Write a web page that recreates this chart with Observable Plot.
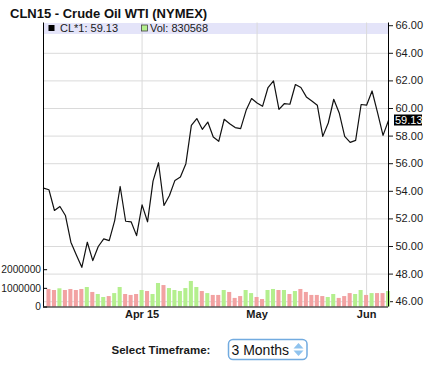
<!DOCTYPE html>
<html>
<head>
<meta charset="utf-8">
<script src="https://cdn.jsdelivr.net/npm/d3@7"></script>
<script src="https://cdn.jsdelivr.net/npm/@observablehq/plot@0.6"></script>
<style>
  html, body { margin: 0; padding: 0; background: #fff; }
  #wrap { position: relative; width: 447px; height: 366px; overflow: hidden; font-family: "Liberation Sans", Arial, Helvetica, sans-serif; }
  #band { position: absolute; left: 43px; top: 22.5px; width: 345px; height: 11px; background: #e4e4f9; }
  .layer { position: absolute; left: 0; top: 0; }
</style>
</head>
<body>
<div id="wrap">
  <div id="band"></div>
  <div id="price" class="layer"></div>
  <div id="volume" class="layer"></div>
  <svg id="overlay" class="layer" width="447" height="366"></svg>
</div>
<script>
// ---- data ----
const title = "CLN15 - Crude Oil WTI (NYMEX)";
const symbol = "CL*1";
const timeframe = "3 Months";
const dates = [
  "2015-03-06","2015-03-09","2015-03-10","2015-03-11","2015-03-12","2015-03-13","2015-03-16","2015-03-17","2015-03-18","2015-03-19",
  "2015-03-20","2015-03-23","2015-03-24","2015-03-25","2015-03-26","2015-03-27","2015-03-30","2015-03-31",
  "2015-04-01","2015-04-02","2015-04-06","2015-04-07","2015-04-08","2015-04-09","2015-04-10","2015-04-13","2015-04-14","2015-04-15",
  "2015-04-16","2015-04-17","2015-04-20","2015-04-21","2015-04-22","2015-04-23","2015-04-24","2015-04-27","2015-04-28","2015-04-29","2015-04-30",
  "2015-05-01","2015-05-04","2015-05-05","2015-05-06","2015-05-07","2015-05-08","2015-05-11","2015-05-12","2015-05-13","2015-05-14","2015-05-15",
  "2015-05-18","2015-05-19","2015-05-20","2015-05-21","2015-05-22","2015-05-26","2015-05-27","2015-05-28","2015-05-29",
  "2015-06-01","2015-06-02","2015-06-03","2015-06-04","2015-06-05"
];
const closes = [
  54.23, 54.11, 52.61, 52.90, 52.25, 50.31, 49.39, 48.49, 50.31, 48.98,
  50.00, 50.55, 50.43, 51.88, 54.35, 51.83, 51.79, 50.79,
  53.02, 51.79, 54.74, 56.07, 52.97, 53.70, 54.79, 55.03, 56.00, 58.78,
  59.27, 58.49, 59.02, 57.93, 57.62, 59.22, 58.90, 58.62, 58.54, 59.87, 60.72,
  60.40, 60.16, 61.52, 62.00, 59.94, 60.36, 60.31, 61.74, 61.52, 60.84, 60.55,
  60.24, 57.98, 58.95, 60.67, 59.68, 57.98, 57.55, 57.69, 60.29,
  60.24, 61.27, 59.70, 58.05, 59.13
];
const volumes = [
  null, 940000, 885000, 976000, 885000, 940000, 885000, 940000, 1045000, 780000,
  670000, 510000, 560000, 720000, 1045000, 670000, 620000, 670000,
  885000, 830000, 670000, 1260000, 1150000, 990000, 885000, 830000, 990000, 1370000,
  1045000, 830000, 720000, 620000, 620000, 885000, 780000, 460000, 560000, 885000, 720000,
  510000, 400000, 885000, 940000, 885000, 885000, 670000, 830000, 940000, 780000, 620000,
  620000, 560000, 510000, 670000, 460000, 560000, 720000, 670000, 885000,
  620000, 720000, 720000, 720000, 830568
];
const priceTicks = [46, 48, 50, 52, 54, 56, 58, 60, 62, 64, 66];
const volumeTicks = [0, 1000000, 2000000];
const monthStarts = ["2015-04-01", "2015-05-01", "2015-06-01"];
const monthLabels = ["Apr 15", "May", "Jun"];

// ---- derived ----
const rows = dates.map((d, i) => ({
  i, date: d, close: closes[i], volume: volumes[i],
  up: i > 0 && closes[i] >= closes[i - 1]
}));
const last = rows[rows.length - 1];
const monthIdx = monthStarts.map(m => dates.indexOf(m));
const labelOf = new Map(monthIdx.map((k, j) => [k, monthLabels[j]]));

const FONT = "'Liberation Sans', Arial, Helvetica, sans-serif";
const GREEN = "#b4ef8e", PINK = "#f2a2a2";
const W = 447, H = 330, ML = 43, MR = 59, MT = 22.5, MB = 23.5;
const xDomain = [0, dates.length - 1];
const common = {
  width: W, height: H, marginLeft: ML, marginRight: MR, marginTop: MT, marginBottom: MB,
  style: {background: "transparent", fontFamily: FONT, fontSize: "11px", color: "#1a1a1a", overflow: "visible"}
};

const pricePlot = Plot.plot({
  ...common,
  x: {domain: xDomain, axis: null},
  y: {domain: [45.616, 66.196]},
  marks: [
    Plot.gridY(priceTicks.filter(t => t < 66), {stroke: "#dadada", strokeOpacity: 1}),
    Plot.gridX(monthIdx, {stroke: "#dadada", strokeOpacity: 1}),
    Plot.axisY(priceTicks, {anchor: "right", tickSize: 4, tickPadding: 3, tickFormat: d => d.toFixed(2), label: null}),
    Plot.text(monthIdx, {x: d => d, frameAnchor: "bottom", dy: 11, text: d => labelOf.get(d), fontWeight: "bold", fontSize: 11, fill: "#1a1a1a"}),
    Plot.line(rows, {x: "i", y: "close", stroke: "#111", strokeWidth: 1.2}),
    (index, scales, values, dims) => {
      const y = scales.y(last.close);
      const x = dims.width - dims.marginRight + 6;
      const g = d3.create("svg:g");
      g.append("rect").attr("x", x).attr("y", y - 5.5).attr("width", 28).attr("height", 11).attr("fill", "#000");
      g.append("text").attr("x", x + 1).attr("y", y).attr("dy", "0.35em").attr("fill", "#fff")
        .attr("text-anchor", "start").attr("font-size", 11).text(last.close.toFixed(2));
      return g.node();
    }
  ]
});
document.getElementById("price").appendChild(pricePlot);

const volPlot = Plot.plot({
  ...common,
  x: {domain: xDomain, axis: null},
  y: {domain: [0, 15.23e6]},
  color: {type: "identity"},
  marks: [
    Plot.rect(rows.filter(d => d.volume != null), {
      x1: d => d.i - 0.37, x2: d => d.i + 0.37, y1: 0, y2: "volume",
      fill: d => d.up ? GREEN : PINK
    }),
    Plot.axisY(volumeTicks, {anchor: "left", tickSize: 0, tickPadding: 2.5, fontSize: 10.2, tickFormat: d => String(d), label: null}),
    Plot.ruleY(volumeTicks, {x1: 0, x2: 0.75, stroke: "#000"}),
    Plot.ruleY([0], {stroke: "#000"}),
    Plot.ruleX(xDomain, {stroke: "#000"})
  ]
});
document.getElementById("volume").appendChild(volPlot);

// ---- title, legend, timeframe control ----
const ov = d3.select("#overlay").style("font-family", FONT);
ov.append("text").attr("x", 10).attr("y", 18.3).attr("font-weight", "bold").attr("font-size", 13)
  .attr("fill", "#111").text(title);
ov.append("rect").attr("x", 48.5).attr("y", 25).attr("width", 6).attr("height", 6).attr("fill", "#000");
ov.append("text").attr("x", 60).attr("y", 32).attr("font-size", 11).attr("fill", "#1a1a1a")
  .text(`${symbol}: ${last.close.toFixed(2)}`);
ov.append("rect").attr("x", 141.5).attr("y", 25).attr("width", 6).attr("height", 6)
  .attr("fill", GREEN).attr("stroke", "#444").attr("stroke-width", 0.8);
ov.append("text").attr("x", 150).attr("y", 32).attr("font-size", 11).attr("fill", "#1a1a1a")
  .text(`Vol: ${last.volume}`);

ov.append("text").attr("x", 111.5).attr("y", 353.5).attr("font-weight", "bold").attr("font-size", 11.5)
  .attr("fill", "#1a1a1a").text("Select Timeframe:");
ov.append("rect").attr("x", 228.5).attr("y", 339.5).attr("width", 78.5).attr("height", 20).attr("rx", 4.5)
  .attr("fill", "#fff").attr("stroke", "#72abe0").attr("stroke-width", 1.5);
ov.append("text").attr("x", 231.5).attr("y", 354.5).attr("font-size", 14).attr("fill", "#111").text(timeframe);
ov.append("path").attr("d", "M293.5,348.5 L298.5,343 L303.5,348.5 Z").attr("fill", "#8fc3ee");
ov.append("path").attr("d", "M293.5,350.5 L298.5,356 L303.5,350.5 Z").attr("fill", "#8fc3ee");
</script>
</body>
</html>
